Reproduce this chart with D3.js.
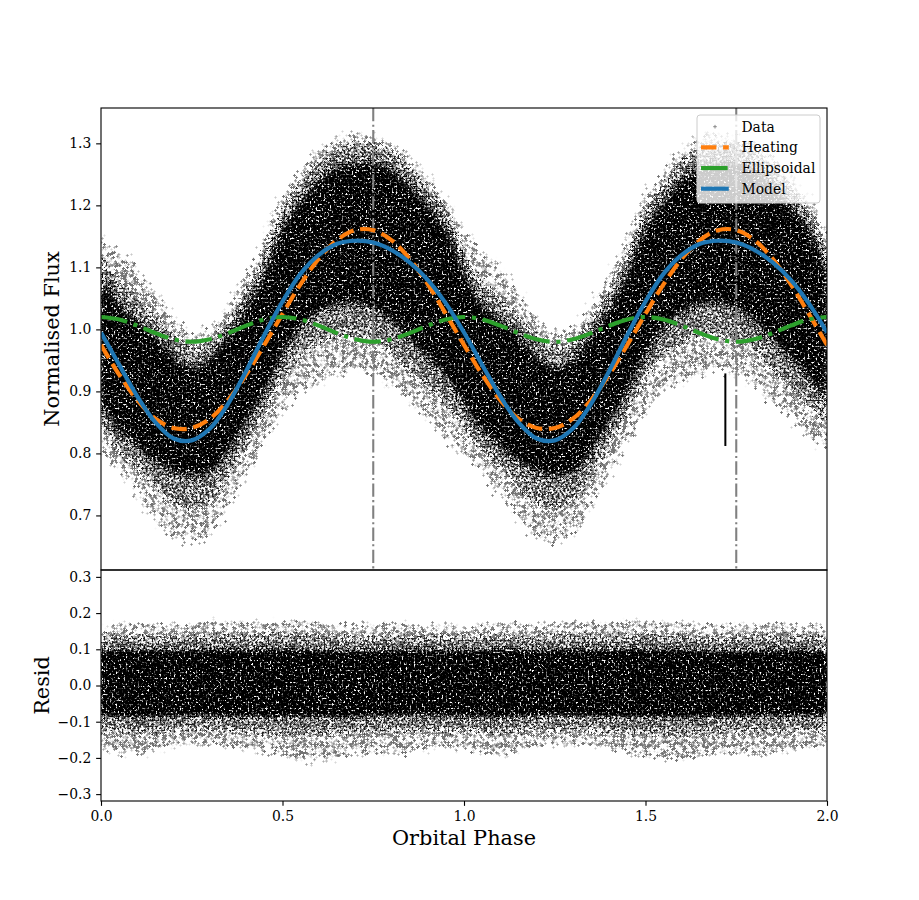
<!DOCTYPE html>
<html>
<head>
<meta charset="utf-8">
<script src="https://cdn.jsdelivr.net/npm/d3@7"></script>
<style>
body{margin:0;background:#fff;}
svg{display:block;font-family:"DejaVu Serif",serif;}
</style>
</head>
<body>
<div id="graph"></div>
<script>
// one orbit, every 0.05 in phase; the second orbit repeats it at phase+1
var phase       = [0,0.05,0.1,0.15,0.2,0.25,0.3,0.35,0.4,0.45,0.5,0.55,0.6,0.65,0.7,0.75,0.8,0.85,0.9,0.95,1.0];
var heating     = [0.975,0.927,0.886,0.856,0.841,0.841,0.856,0.886,0.927,0.975,1.025,1.073,1.114,1.144,1.160,1.160,1.144,1.114,1.073,1.025,0.975];
var ellipsoidal = [1.020,1.016,1.006,0.994,0.984,0.980,0.984,0.994,1.006,1.016,1.020,1.016,1.006,0.994,0.984,0.980,0.984,0.994,1.006,1.016,1.020];
var model       = [0.995,0.943,0.892,0.850,0.824,0.821,0.840,0.880,0.933,0.991,1.045,1.090,1.120,1.138,1.143,1.140,1.128,1.108,1.080,1.042,0.995];

// spread of the data cloud (sparse outliers / dense / solid core)
var haloTop = [1.150,1.115,1.095,1.052,1.010,0.988,0.998,1.030,1.084,1.138,1.212,1.246,1.283,1.305,1.316,1.310,1.294,1.273,1.240,1.203,1.150];
var midTop  = [1.115,1.070,1.045,1.013,0.986,0.970,0.975,1.007,1.056,1.109,1.185,1.228,1.266,1.287,1.298,1.298,1.282,1.255,1.223,1.185,1.115];
var coreTop = [1.080,1.030,1.007,0.981,0.948,0.932,0.943,0.981,1.023,1.077,1.153,1.196,1.233,1.255,1.266,1.266,1.249,1.223,1.190,1.153,1.080];
var coreBot = [0.890,0.846,0.820,0.793,0.776,0.766,0.776,0.814,0.862,0.911,0.970,1.013,1.034,1.045,1.045,1.039,1.023,0.991,0.964,0.932,0.890];
var midBot  = [0.849,0.808,0.782,0.750,0.723,0.712,0.728,0.771,0.820,0.873,0.927,0.964,0.981,0.991,0.991,0.986,0.970,0.938,0.911,0.884,0.849];
var haloBot = [0.802,0.780,0.743,0.700,0.668,0.657,0.673,0.727,0.770,0.824,0.877,0.904,0.920,0.931,0.936,0.931,0.915,0.888,0.861,0.834,0.802];

// residual cloud, every 0.1 in phase
var rPhase   = [0,0.1,0.2,0.3,0.4,0.5,0.6,0.7,0.8,0.9,1.0];
var rHaloTop = [0.162,0.172,0.169,0.175,0.175,0.179,0.172,0.167,0.169,0.169,0.162];
var rMidTop  = [0.135,0.138,0.136,0.140,0.138,0.142,0.138,0.134,0.136,0.138,0.135];
var rCoreTop = [0.092,0.096,0.094,0.097,0.096,0.098,0.095,0.092,0.094,0.096,0.092];
var rCoreBot = [-0.080,-0.084,-0.080,-0.080,-0.082,-0.084,-0.084,-0.082,-0.080,-0.080,-0.080];
var rMidBot  = [-0.126,-0.133,-0.126,-0.124,-0.128,-0.136,-0.136,-0.130,-0.128,-0.126,-0.126];
var rHaloBot = [-0.174,-0.192,-0.164,-0.164,-0.174,-0.192,-0.210,-0.183,-0.192,-0.177,-0.174];

var refPhase = [0.75, 1.75];       // grey dash-dot markers
var errPhase = 1.72, errFlux = [0.812, 0.929];

var topTicks = [0.7,0.8,0.9,1.0,1.1,1.2,1.3];
var resTicks = [-0.3,-0.2,-0.1,0.0,0.1,0.2,0.3];
var xTicks   = [0,0.5,1.0,1.5,2.0];
var legendLabels = ["Data","Heating","Ellipsoidal","Model"];

var W = 919, H = 900;
var left = 101, right = 827, top1 = 108, mid = 570, bot = 801;
var pt = 100/72, lw = 3*pt;

var x    = d3.scaleLinear().domain([0,2]).range([left,right]);
var yTop = d3.scaleLinear().domain([0.612,1.357]).range([mid,top1]);
var yRes = d3.scaleLinear().domain([-0.319,0.319]).range([bot,mid]);

function twoOrbits(ph, vals) {
    var out = [];
    ph.forEach(function(p,i){ out.push([p, vals[i]]); });
    ph.forEach(function(p,i){ if (i>0) out.push([p+1, vals[i]]); });
    return out;
}
function twoOrbitsBand(ph, lo, hi) {
    var out = [];
    ph.forEach(function(p,i){ out.push([p, lo[i], hi[i]]); });
    ph.forEach(function(p,i){ if (i>0) out.push([p+1, lo[i], hi[i]]); });
    return out;
}

var svg = d3.select('#graph').append('svg')
    .attr('width', W).attr('height', H)
    .attr('xmlns', 'http://www.w3.org/2000/svg');
var defs = svg.append('defs');

defs.append('clipPath').attr('id','clipTop').append('rect')
    .attr('x',left).attr('y',top1).attr('width',right-left).attr('height',mid-top1);
defs.append('clipPath').attr('id','clipRes').append('rect')
    .attr('x',left).attr('y',mid).attr('width',right-left).attr('height',bot-mid);

// speckle texture: thresholded noise whose density fades out across the band edge;
// with cross=true each speck is grown into a small '+' like the plotted markers
function speckle(id, seed, freq, thr, sigma, grey, cross) {
    var k = 9, fall = 0.5;
    var f = defs.append('filter').attr('id', id)
        .attr('filterUnits','userSpaceOnUse')
        .attr('x',0).attr('y',0).attr('width',W).attr('height',H)
        .attr('color-interpolation-filters','sRGB');
    f.append('feTurbulence').attr('type','fractalNoise').attr('baseFrequency',freq)
        .attr('numOctaves',2).attr('seed',seed).attr('result','noise');
    f.append('feColorMatrix').attr('in','noise').attr('type','matrix')
        .attr('values','0 0 0 0 0  0 0 0 0 0  0 0 0 0 0  1 0 0 0 0')
        .attr('result','n');
    f.append('feMorphology').attr('in','SourceAlpha').attr('operator','dilate').attr('radius',sigma).attr('result','big');
    f.append('feGaussianBlur').attr('in','big').attr('stdDeviation',sigma).attr('result','m');
    f.append('feComposite').attr('in','n').attr('in2','m').attr('operator','arithmetic')
        .attr('k1',0).attr('k2',k).attr('k3',k*fall).attr('k4',-k*(thr+fall))
        .attr('result','d');
    f.append('feColorMatrix').attr('in','d').attr('type','matrix')
        .attr('values',[0,0,0,0,grey, 0,0,0,0,grey, 0,0,0,0,grey, 0,0,0,1,0].join(' '))
        .attr('result','c');
    if (cross) {
        f.append('feMorphology').attr('in','c').attr('operator','dilate').attr('radius','1 0').attr('result','h');
        f.append('feMorphology').attr('in','c').attr('operator','dilate').attr('radius','0 1').attr('result','v');
        var mg = f.append('feMerge');
        mg.append('feMergeNode').attr('in','h');
        mg.append('feMergeNode').attr('in','v');
    }
}
speckle('spHalo', 3, 0.9, 0.61, 8, 0.45, true);
speckle('spMid',  7, 0.5, 0.47, 5, 0.12, false);
speckle('spCore', 11, 0.5, 0.37, 7, 0.0, false);
speckle('rHalo', 5, 0.9, 0.61, 6, 0.45, true);
speckle('rMid',  9, 0.5, 0.47, 4, 0.12, false);
speckle('rCore', 13, 0.5, 0.36, 5, 0.0, false);

function drawCloud(g, y, ph, bands) {
    var area = d3.area()
        .x(function(d){ return x(d[0]); })
        .y0(function(d){ return y(d[1]); })
        .y1(function(d){ return y(d[2]); })
        .curve(d3.curveCatmullRom);
    bands.forEach(function(b){
        g.append('path')
            .datum(twoOrbitsBand(ph, b[0], b[1]))
            .attr('d', area)
            .attr('fill', '#000')
            .attr('filter', 'url(#' + b[2] + ')');
    });
}

// ---- top panel
var gTop = svg.append('g').attr('clip-path','url(#clipTop)');
drawCloud(gTop, yTop, phase, [
    [haloBot, haloTop, 'spHalo'],
    [midBot,  midTop,  'spMid'],
    [coreBot, coreTop, 'spCore']
]);

gTop.selectAll('line.ref').data(refPhase).enter().append('line')
    .attr('class','ref')
    .attr('x1', function(d){ return x(d); }).attr('x2', function(d){ return x(d); })
    .attr('y1', top1).attr('y2', mid)
    .attr('stroke','#808080').attr('stroke-width',1.5*pt)
    .attr('stroke-dasharray', [6.4,1.6,1,1.6].map(function(v){ return v*1.5*pt; }).join(','));

gTop.append('line')
    .attr('x1', x(errPhase)).attr('x2', x(errPhase))
    .attr('y1', yTop(errFlux[0])).attr('y2', yTop(errFlux[1]))
    .attr('stroke','#000').attr('stroke-width',2);

var lineTop = d3.line()
    .x(function(d){ return x(d[0]); })
    .y(function(d){ return yTop(d[1]); })
    .curve(d3.curveCatmullRom);

gTop.append('path').datum(twoOrbits(phase, heating)).attr('d', lineTop)
    .attr('fill','none').attr('stroke','#ff7f0e').attr('stroke-width',lw)
    .attr('stroke-dasharray', [3.7*lw,1.6*lw].join(','));
gTop.append('path').datum(twoOrbits(phase, ellipsoidal)).attr('d', lineTop)
    .attr('fill','none').attr('stroke','#2ca02c').attr('stroke-width',lw)
    .attr('stroke-dasharray', [6.4*lw,1.6*lw,1*lw,1.6*lw].join(','));
gTop.append('path').datum(twoOrbits(phase, model)).attr('d', lineTop)
    .attr('fill','none').attr('stroke','#1f77b4').attr('stroke-width',lw);

// ---- residual panel
var gRes = svg.append('g').attr('clip-path','url(#clipRes)');
drawCloud(gRes, yRes, rPhase, [
    [rHaloBot, rHaloTop, 'rHalo'],
    [rMidBot,  rMidTop,  'rMid'],
    [rCoreBot, rCoreTop, 'rCore']
]);

// ---- axes
var tickLen = 3.5*pt, fs = 10*pt;
function styleAxis(g) {
    g.select('.domain').remove();
    g.selectAll('.tick line').attr('stroke','#000').attr('stroke-width',0.8*pt);
    g.selectAll('.tick text').attr('font-family','DejaVu Serif').attr('font-size',fs).attr('fill','#000');
}
svg.append('g').attr('transform','translate('+left+',0)')
    .call(d3.axisLeft(yTop).tickValues(topTicks).tickFormat(d3.format('.1f')).tickSize(tickLen).tickPadding(tickLen))
    .call(styleAxis);
svg.append('g').attr('transform','translate('+left+',0)')
    .call(d3.axisLeft(yRes).tickValues(resTicks).tickFormat(d3.format('.1f')).tickSize(tickLen).tickPadding(tickLen))
    .call(styleAxis);
svg.append('g').attr('transform','translate(0,'+bot+')')
    .call(d3.axisBottom(x).tickValues(xTicks).tickFormat(d3.format('.1f')).tickSize(tickLen).tickPadding(tickLen))
    .call(styleAxis);

[[top1,mid],[mid,bot]].forEach(function(r){
    svg.append('rect').attr('x',left).attr('y',r[0]).attr('width',right-left).attr('height',r[1]-r[0])
        .attr('fill','none').attr('stroke','#000').attr('stroke-width',0.8*pt);
});

var lfs = 15*pt;
svg.append('text').attr('x',(left+right)/2).attr('y',845)
    .attr('text-anchor','middle').attr('font-size',lfs).text('Orbital Phase');
svg.append('text').attr('transform','translate(59,'+((top1+mid)/2)+') rotate(-90)')
    .attr('text-anchor','middle').attr('font-size',lfs).text('Normalised Flux');
svg.append('text').attr('transform','translate(49,'+((mid+bot)/2)+') rotate(-90)')
    .attr('text-anchor','middle').attr('font-size',lfs).text('Resid');

// ---- legend
var leg = svg.append('g');
leg.append('rect').attr('x',697).attr('y',115).attr('width',123).attr('height',88).attr('rx',3)
    .attr('fill','#fff').attr('fill-opacity',0.8).attr('stroke','#cccccc').attr('stroke-width',1);
var rowY = function(i){ return 126.7 + i*20.67; };
var hx0 = 701, hx1 = 701 + 2*fs;
leg.append('path')
    .attr('d', 'M'+(715-1.8)+','+rowY(0)+'h3.6M715,'+(rowY(0)-1.8)+'v3.6')
    .attr('stroke','#888').attr('stroke-width',1);
leg.append('line').attr('x1',hx0).attr('x2',hx1).attr('y1',rowY(1)).attr('y2',rowY(1))
    .attr('stroke','#ff7f0e').attr('stroke-width',lw).attr('stroke-dasharray',[3.7*lw,1.6*lw].join(','));
leg.append('line').attr('x1',hx0).attr('x2',hx1).attr('y1',rowY(2)).attr('y2',rowY(2))
    .attr('stroke','#2ca02c').attr('stroke-width',lw).attr('stroke-dasharray',[6.4*lw,1.6*lw,1*lw,1.6*lw].join(','));
leg.append('line').attr('x1',hx0).attr('x2',hx1).attr('y1',rowY(3)).attr('y2',rowY(3))
    .attr('stroke','#1f77b4').attr('stroke-width',lw);
leg.selectAll('text.lab').data(legendLabels).enter().append('text')
    .attr('class','lab')
    .attr('x',741.5).attr('y',function(d,i){ return rowY(i); })
    .attr('dominant-baseline','central')
    .attr('font-size',fs).text(function(d){ return d; });
</script>
</body>
</html>
